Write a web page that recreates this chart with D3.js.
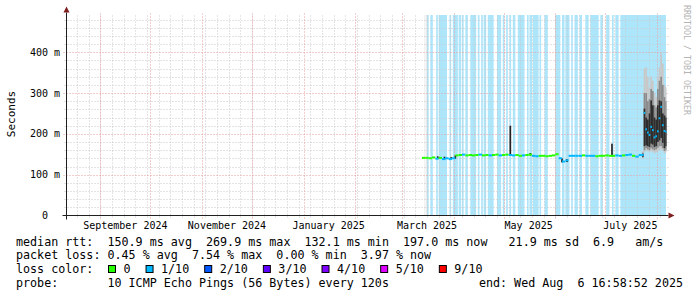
<!DOCTYPE html>
<html>
<head>
<meta charset="UTF-8">
<style>
  body { margin: 0; background: #fff; }
  svg { display: block; font-family: "DejaVu Sans Mono", monospace; }
  text { white-space: pre; }
</style>
</head>
<body>
<svg></svg>
<script src="https://d3js.org/d3.v7.min.js"></script>
<script>

let width = 697, height = 297;

// graph end, the window is the last 360 days
const endTime = new Date(2025, 7, 6, 16, 58, 52);
const startTime = d3.timeDay.offset(endTime, -360);

const yTicks = [0, 100, 200, 300, 400];   // ms
const yMax = 490;

// median rtt (ms), one value every 2 days from 13 Mar 2025
const medianStart = new Date(2025, 2, 13);
const median = [140, 140, 139, 141, 138, 140, 137, 139, 137, 139,
                146, 147, 148, 146, 147, 146, 147, 148, 146, 147,
                146, 147, 148, 146, 147, 148, 147, 146, 147, 145,
                146, 147, 148, 145, 144, 145, 145, 144, 145, 146,
                149, 139, 131, 134, 145, 145, 145, 145, 146, 145,
                145, 145, 144, 145, 145, 146, 145, 145, 146, 145,
                146, 147, 148, 145, 143, 147];
// loss class of each median value (0 = none, 1 = 1/10)
const medianLoss = [0, 0, 0, 0, 1, 0, 1, 1, 1, 1,
                    0, 0, 1, 0, 0, 0, 0, 1, 0, 0,
                    1, 0, 0, 1, 0, 0, 1, 1, 0, 0,
                    1, 0, 0, 1, 1, 0, 0, 0, 0, 0,
                    0, 1, 1, 1, 1, 1, 1, 1, 0, 1,
                    1, 1, 0, 0, 0, 0, 0, 0, 1, 1,
                    0, 1, 1, 0, 1, 1];

// last two weeks, one value per day from 23 Jul 2025
const tailStart = new Date(2025, 6, 23);
const tailMedian = [147, 250, 210, 202, 196, 216, 208, 190, 193, 205, 237, 265, 220, 206, 204];
const tailLoss   = [1, 1, 1, 1, 1, 1, 1, 1, 1, 1, 1, 1, 1, 1, 1];
const smokeOuter = [[140, 158], [155, 360], [158, 363], [157, 340], [155, 314], [158, 340], [156, 330],
                    [152, 299], [155, 290], [158, 340], [160, 363], [162, 397], [158, 372], [152, 320], [155, 314]];
const smokeMid   = [[142, 154], [160, 300], [165, 300], [162, 280], [160, 285], [165, 310], [162, 305],
                    [160, 270], [162, 265], [166, 310], [170, 330], [170, 340], [165, 320], [158, 290], [160, 280]];
const smokeInner = [[144, 151], [170, 262], [172, 240], [170, 235], [168, 250], [176, 282], [174, 270],
                    [168, 240], [170, 235], [180, 270], [184, 282], [190, 280], [178, 250], [165, 245], [170, 240]];

// short smoke spikes: [start, lo, hi] in ms, 1 day wide
const spikes = [
  [new Date(2025, 2, 22), 139, 145],
  [new Date(2025, 2, 26), 137, 144],
  [new Date(2025, 2, 30), 136, 143],
  [new Date(2025, 3, 1, 12), 139, 147],
  [new Date(2025, 4, 4, 12), 147, 220],
  [new Date(2025, 4, 16, 12), 147, 153],
  [new Date(2025, 5, 4, 12), 130, 140],
  [new Date(2025, 5, 7, 12), 131, 138],
  [new Date(2025, 6, 4, 12), 145, 176]
];

// loss background, [from, to] in days after 1 Mar 2025
const lossDay0 = new Date(2025, 2, 1);
const lossBands = [[15, 16], [17, 18.5], [20.5, 21.5], [22, 27], [28.5, 29.5], [30.5, 33.5],
                   [34, 35.5], [36, 37], [38, 39.5], [41, 44.5], [45.5, 46.5], [47.5, 48.5],
                   [49, 50.5], [51.5, 55], [57, 59.5], [60.5, 61.5], [62.5, 63.5], [64.5, 65.5],
                   [66.5, 68], [69.5, 73.5], [75, 76], [76.5, 78], [78.5, 82], [82.5, 83.5],
                   [85.5, 87.5], [92, 95], [96, 97.5], [98, 100.5], [101.5, 102.5], [103.5, 105.5],
                   [106.5, 108], [110, 112], [113, 118], [119, 120.5], [122.5, 124.5],
                   [126, 127], [128, 130], [131, 160]];
// thin grey background lines just before the first data
const greyBands = [[13.5, 14], [14.5, 15]];

const lossColors = ["#26ff00", "#00b8ff", "#0059ff", "#5e00ff", "#7e00ff", "#dd00ff", "#ff0000"];
const lossLabels = ["0", "1/10", "2/10", "3/10", "4/10", "5/10", "9/10"];

const legendLines = [
  "median rtt:  150.9 ms avg  269.9 ms max  132.1 ms min  197.0 ms now   21.9 ms sd  6.9   am/s",
  "packet loss: 0.45 % avg  7.54 % max  0.00 % min  3.97 % now",
  "loss color:",
  "probe:       10 ICMP Echo Pings (56 Bytes) every 120s"
];
const endLabel = "end: Wed Aug  6 16:58:52 2025";

let svg = d3.select("svg")
    .attr("width", width)
    .attr("height", height);

let x = d3.scaleTime().domain([startTime, endTime]).range([66.5, 666.5]);
let y = d3.scaleLinear().domain([0, yMax]).range([215.5, 15.5]);
const [x0, x1] = x.range();
const [y0, y1] = y.range();
let dayPos = d => x(d3.timeHour.offset(lossDay0, Math.round(d * 24)));

// loss background
let bg = svg.append("g");
bg.selectAll(".loss")
    .data(lossBands)
    .join("rect")
    .attr("x", d => dayPos(d[0]))
    .attr("width", d => Math.min(dayPos(d[1]), x1 - 0.5) - dayPos(d[0]))
    .attr("y", y1 - 0.5)
    .attr("height", y0 - y1)
    .attr("fill", "#ade5fb");
bg.selectAll(".grey")
    .data(greyBands)
    .join("rect")
    .attr("x", d => dayPos(d[0]))
    .attr("width", d => dayPos(d[1]) - dayPos(d[0]))
    .attr("y", y1 - 0.5)
    .attr("height", y0 - y1)
    .attr("fill", "#e6e6e6");

// grid
let minorY = d3.range(20, yMax, 20).filter(v => v % 100);
let majorY = yTicks.filter(v => v > 0);
let minorX = d3.timeSunday.range(startTime, endTime);
let majorX = d3.timeMonth.range(startTime, endTime);
let grid = svg.append("g").attr("stroke-dasharray", "1,2").attr("fill", "none");

grid.selectAll(".minx").data(minorX).join("line")
    .attr("x1", d => Math.round(x(d)) + 0.5).attr("x2", d => Math.round(x(d)) + 0.5)
    .attr("y1", y0 + 2).attr("y2", y1 - 2)
    .attr("stroke", "#c8c8c8");
grid.selectAll(".miny").data(minorY).join("line")
    .attr("x1", x0 - 2).attr("x2", x1 + 2)
    .attr("y1", d => Math.round(y(d)) + 0.5).attr("y2", d => Math.round(y(d)) + 0.5)
    .attr("stroke", "#c8c8c8");
grid.selectAll(".majx").data(majorX).join("line")
    .attr("x1", d => Math.round(x(d)) + 0.5).attr("x2", d => Math.round(x(d)) + 0.5)
    .attr("y1", y0 + 3).attr("y2", y1 - 2)
    .attr("stroke", "#e89a9a");
grid.selectAll(".majy").data(majorY).join("line")
    .attr("x1", x0 - 3).attr("x2", x1 + 2)
    .attr("y1", d => Math.round(y(d)) + 0.5).attr("y2", d => Math.round(y(d)) + 0.5)
    .attr("stroke", "#e89a9a");

// smoke
let dayEnd = t => d3.min([d3.timeDay.offset(t, 1), endTime]);
let tailDays = tailMedian.map((v, i) => d3.timeDay.offset(tailStart, i));
let smoke = svg.append("g");
[[smokeOuter, "#c8c8c8"], [smokeMid, "#8c8c8c"], [smokeInner, "#2e2e2e"]].forEach(([layer, color]) => {
  smoke.append("g")
      .selectAll("rect")
      .data(layer)
      .join("rect")
      .attr("x", (d, i) => x(tailDays[i]))
      .attr("width", (d, i) => x(dayEnd(tailDays[i])) - x(tailDays[i]))
      .attr("y", d => y(d[1]))
      .attr("height", d => y(d[0]) - y(d[1]))
      .attr("fill", color);
});
smoke.append("g")
    .selectAll("rect")
    .data(spikes)
    .join("rect")
    .attr("x", d => x(d[0]))
    .attr("width", d => x(d3.timeDay.offset(d[0], 1)) - x(d[0]))
    .attr("y", d => y(d[2]))
    .attr("height", d => y(d[1]) - y(d[2]))
    .attr("fill", "#222");

// median, a 2px band coloured by loss
let medianPts = median.map((v, i) => ({
  t: d3.timeDay.offset(medianStart, 2 * i), t2: d3.timeDay.offset(medianStart, 2 * i + 2),
  v: v, loss: medianLoss[i]
})).concat(tailMedian.map((v, i) => ({
  t: tailDays[i], t2: dayEnd(tailDays[i]), v: v, loss: tailLoss[i]
})));
svg.append("g")
    .selectAll("rect")
    .data(medianPts)
    .join("rect")
    .attr("x", d => x(d.t))
    .attr("width", d => x(d.t2) - x(d.t))
    .attr("y", d => y(d.v) - 1.5)
    .attr("height", 2)
    .attr("fill", d => lossColors[d.loss]);

// axes
let axis = svg.append("g").attr("stroke", "#1f1f1f").attr("stroke-width", 1);
axis.append("line").attr("x1", x0 - 4).attr("x2", x1 + 2).attr("y1", y0).attr("y2", y0);
axis.append("line").attr("x1", x0).attr("x2", x0).attr("y1", y0 + 4).attr("y2", y1 - 3);
svg.append("path")
    .attr("d", `M${x1 + 2},${y0 - 3}L${x1 + 8},${y0}L${x1 + 2},${y0 + 3}Z`)
    .attr("fill", "#801f1f");
svg.append("path")
    .attr("d", `M${x0 - 3},${y1 - 3}L${x0},${y1 - 9}L${x0 + 3},${y1 - 3}Z`)
    .attr("fill", "#801f1f");

// y labels
svg.append("g")
    .selectAll("text")
    .data(yTicks)
    .join("text")
    .attr("x", 45)
    .attr("y", d => y(d))
    .attr("text-anchor", "middle")
    .attr("dominant-baseline", "central")
    .attr("font-size", 10)
    .text(d => d === 0 ? "0" : d + " m");

// x labels, centred half a month after the month start
svg.append("g")
    .selectAll("text")
    .data(d3.timeMonth.every(2).range(startTime, endTime))
    .join("text")
    .attr("x", d => x(d3.timeDay.offset(d, 15)))
    .attr("y", 225)
    .attr("text-anchor", "middle")
    .attr("dominant-baseline", "central")
    .attr("font-size", 10)
    .text(d3.timeFormat("%B %Y"));

svg.append("text")
    .attr("transform", "translate(11,114) rotate(-90)")
    .attr("text-anchor", "middle")
    .attr("dominant-baseline", "central")
    .attr("font-size", 11)
    .text("Seconds");

svg.append("text")
    .attr("transform", "translate(687,5) rotate(90)")
    .attr("dominant-baseline", "central")
    .attr("font-size", 8.3)
    .attr("fill", "#b4b4b4")
    .text("RRDTOOL / TOBI OETIKER");

// legend
let legend = svg.append("g").attr("font-size", 11.7);
let rowY = i => 241.5 + i * 13.75;
legendLines.forEach((s, i) => {
  legend.append("text").attr("x", 16).attr("y", rowY(i))
      .attr("dominant-baseline", "central").text(s);
});
legend.append("text").attr("x", 683).attr("y", rowY(3))
    .attr("text-anchor", "end").attr("dominant-baseline", "central").text(endLabel);

let cursor = 108;
lossLabels.forEach((label, i) => {
  legend.append("rect")
      .attr("x", cursor + 0.5).attr("y", rowY(2) - 3.5)
      .attr("width", 7).attr("height", 7)
      .attr("fill", lossColors[i]).attr("stroke", "#000");
  let t = legend.append("text").attr("x", cursor + 15.5).attr("y", rowY(2))
      .attr("dominant-baseline", "central").text(label);
  cursor += 15.5 + t.node().getComputedTextLength() + 15;
});

</script>
</body>
</html>
